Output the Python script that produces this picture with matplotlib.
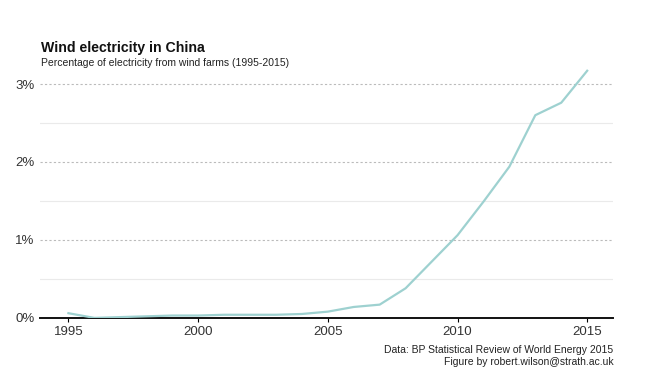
import matplotlib
matplotlib.use("Agg")
import matplotlib.pyplot as plt
from matplotlib.ticker import FuncFormatter, MultipleLocator

years = list(range(1995, 2016))
wind_share = [0.06, 0.00, 0.01, 0.02, 0.03, 0.03, 0.04, 0.04, 0.04, 0.05,
              0.08, 0.14, 0.17, 0.38, 0.72, 1.06, 1.49, 1.94, 2.60, 2.76, 3.17]
x_ticks = [1995, 2000, 2005, 2010, 2015]
y_ticks = [0, 1, 2, 3]

plt.rcParams['font.family'] = ['Liberation Sans', 'DejaVu Sans']

fig = plt.figure(figsize=(6.65, 3.91), dpi=100)
ax = fig.add_axes([0.060, 0.187, 0.862, 0.648])

ax.plot(years, wind_share, color='#9ed1d0', lw=1.6, zorder=3)

ax.set_xlim(1993.9, 2016.0)
ax.set_ylim(0, 3.25)
ax.set_xticks(x_ticks)
ax.set_yticks(y_ticks)
ax.yaxis.set_minor_locator(MultipleLocator(0.5))
ax.yaxis.set_major_formatter(FuncFormatter(lambda v, p: f"{v:.0f}%"))

for v in [1, 2, 3]:
    ax.axhline(v, color='#bbbbbb', lw=0.8, ls=(0, (2, 2)), zorder=1)
for v in [0.5, 1.5, 2.5]:
    ax.axhline(v, color='#eaeaea', lw=0.8, zorder=1)

for s in ['top', 'right', 'left']:
    ax.spines[s].set_visible(False)
ax.spines['bottom'].set_linewidth(1.4)
ax.spines['bottom'].set_color('#111111')

ax.tick_params(axis='y', length=0, labelsize=9.5, labelcolor='#333333', pad=4)
ax.tick_params(axis='x', length=3, width=0.8, labelsize=9.5, labelcolor='#333333', pad=3)
ax.tick_params(axis='y', which='minor', length=0)

fig.text(0.062, 0.867, "Wind electricity in China", fontsize=10.2, fontweight='bold', color='#111111')
fig.text(0.062, 0.830, "Percentage of electricity from wind farms (1995-2015)", fontsize=7.5, color='#222222')

fig.text(0.922, 0.098, "Data: BP Statistical Review of World Energy 2015", fontsize=7.5, ha='right', color='#222222')
fig.text(0.922, 0.066, "Figure by robert.wilson@strath.ac.uk", fontsize=7.5, ha='right', color='#222222')

fig.savefig("out.png", dpi=100, facecolor='white')
